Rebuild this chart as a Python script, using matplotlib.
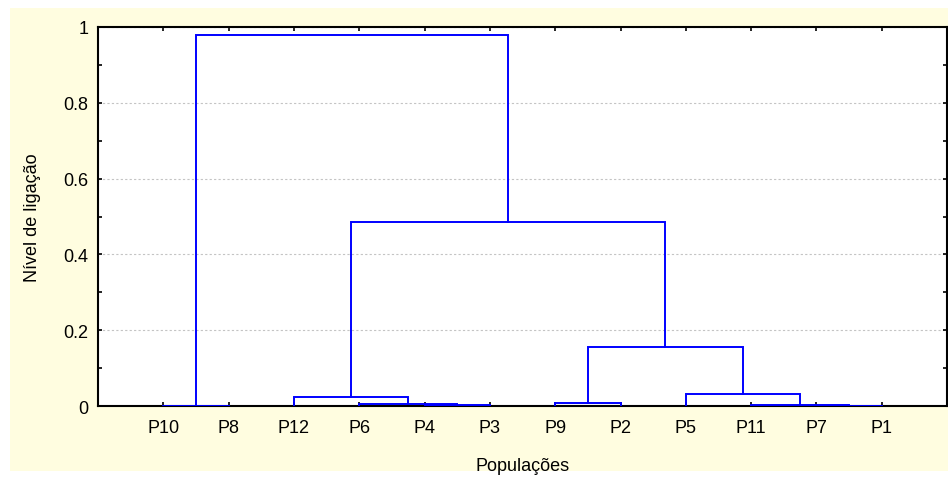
import matplotlib
matplotlib.use('Agg')
import matplotlib.pyplot as plt
from matplotlib.patches import Rectangle
from matplotlib.ticker import MultipleLocator

plt.rcParams['font.family'] = ['Liberation Sans', 'DejaVu Sans']

# folhas na ordem do dendrograma
leaves = ['P10', 'P8', 'P12', 'P6', 'P4', 'P3', 'P9', 'P2', 'P5', 'P11', 'P7', 'P1']

# ligacoes: grupo a + grupo b -> C1, C2, ... (na ordem)
link_a = ['P10', 'P4', 'P6', 'P12', 'P9', 'P7', 'P11', 'P5', 'C5', 'C4', 'C1']
link_b = ['P8', 'P3', 'C2', 'C3', 'P2', 'P1', 'C6', 'C7', 'C8', 'C9', 'C10']
link_height = [0.001, 0.0015, 0.005, 0.024, 0.007, 0.001, 0.003, 0.032, 0.155, 0.485, 0.98]

fig = plt.figure(figsize=(9.48, 4.81), dpi=100, facecolor='white')
# fundo amarelo
fig.add_artist(Rectangle((10 / 948, 0.018), 1, 0.963, transform=fig.transFigure,
                         facecolor='#FFFDE0', edgecolor='none', zorder=-10))
ax = fig.add_axes([0.1034, 0.1538, 0.8956, 0.788])
ax.set_facecolor('white')

pos = {name: i + 1 for i, name in enumerate(leaves)}
hgt = {name: 0.0 for name in leaves}
for k, (a, b, h) in enumerate(zip(link_a, link_b, link_height)):
    xa, xb = pos[a], pos[b]
    ax.plot([xa, xa, xb, xb], [hgt[a], h, h, hgt[b]], color='#0000FF', lw=1.4,
            solid_joinstyle='miter', zorder=3)
    c = 'C%d' % (k + 1)
    pos[c] = (xa + xb) / 2
    hgt[c] = h

ax.set_xlim(0, len(leaves) + 1)
ax.set_ylim(0, 1)
ax.set_xticks(range(1, len(leaves) + 1))
ax.set_xticklabels(leaves)
ax.yaxis.set_minor_locator(MultipleLocator(0.1))
ax.set_yticks([0, 0.2, 0.4, 0.6, 0.8, 1])
ax.set_yticklabels(['0', '0.2', '0.4', '0.6', '0.8', '1'])

ax.grid(axis='y', which='major', color='#C4C4C4', linestyle=(0, (2, 2)), lw=0.8)
ax.tick_params(axis='both', which='both', direction='in', length=3, width=1.2,
               labelsize=13, top=True, right=True)
ax.tick_params(axis='x', pad=9)
ax.tick_params(axis='y', pad=7)
for s in ax.spines.values():
    s.set_linewidth(1.5)

ax.set_xlabel('Populações', fontsize=13)
ax.set_ylabel('Nível de ligação', fontsize=13)
ax.xaxis.set_label_coords(0.5, -0.156)
ax.xaxis.label.set_va('center')
ax.yaxis.set_label_coords(-0.0766, 0.5)
ax.yaxis.label.set_va('center')

fig.savefig('out.png', dpi=100, facecolor=fig.get_facecolor())
